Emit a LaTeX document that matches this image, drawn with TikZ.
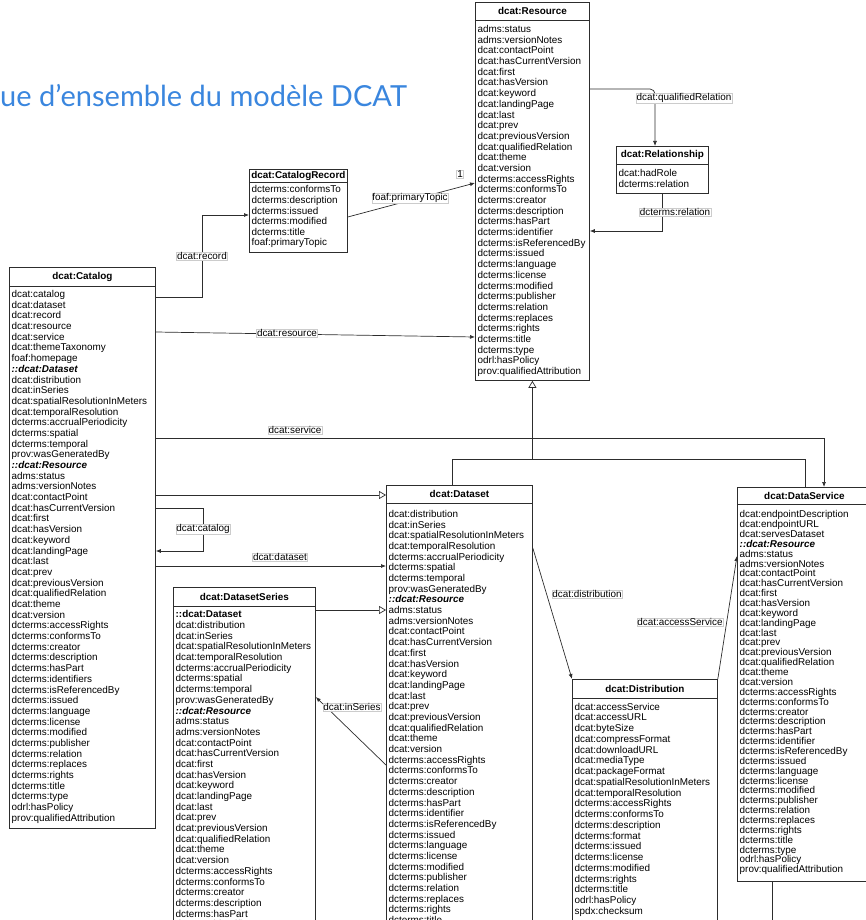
\documentclass[tikz,border=0pt]{standalone}
\usepackage{fontspec}
\setmainfont{Liberation Sans}
\newfontfamily\titlefont{Lato}
\usetikzlibrary{calc}
\usetikzlibrary{arrows.meta}

\definecolor{titleblue}{RGB}{58,134,222}
\definecolor{umlgray}{RGB}{45,45,45}
\newcommand\umlfont{\fontsize{9.9}{10.7}\selectfont}

% property lists
\newcommand\resourceprops{adms:status, adms:versionNotes, dcat:contactPoint,
  dcat:hasCurrentVersion, dcat:first, dcat:hasVersion, dcat:keyword,
  dcat:landingPage, dcat:last, dcat:prev, dcat:previousVersion,
  dcat:qualifiedRelation, dcat:theme, dcat:version, dcterms:accessRights,
  dcterms:conformsTo, dcterms:creator, dcterms:description, dcterms:hasPart,
  dcterms:identifier, dcterms:isReferencedBy, dcterms:issued, dcterms:language,
  dcterms:license, dcterms:modified, dcterms:publisher, dcterms:relation,
  dcterms:replaces, dcterms:rights, dcterms:title, dcterms:type,
  odrl:hasPolicy, prov:qualifiedAttribution}
\newcommand\catalogresprops{adms:status, adms:versionNotes, dcat:contactPoint,
  dcat:hasCurrentVersion, dcat:first, dcat:hasVersion, dcat:keyword,
  dcat:landingPage, dcat:last, dcat:prev, dcat:previousVersion,
  dcat:qualifiedRelation, dcat:theme, dcat:version, dcterms:accessRights,
  dcterms:conformsTo, dcterms:creator, dcterms:description, dcterms:hasPart,
  dcterms:identifiers, dcterms:isReferencedBy, dcterms:issued, dcterms:language,
  dcterms:license, dcterms:modified, dcterms:publisher, dcterms:relation,
  dcterms:replaces, dcterms:rights, dcterms:title, dcterms:type,
  odrl:hasPolicy, prov:qualifiedAttribution}
\newcommand\datasetprops{dcat:distribution, dcat:inSeries,
  dcat:spatialResolutionInMeters, dcat:temporalResolution,
  dcterms:accrualPeriodicity, dcterms:spatial, dcterms:temporal,
  prov:wasGeneratedBy}
\newcommand\catalogprops{dcat:catalog, dcat:dataset, dcat:record, dcat:resource,
  dcat:service, dcat:themeTaxonomy, foaf:homepage}
\newcommand\recordprops{dcterms:conformsTo, dcterms:description, dcterms:issued,
  dcterms:modified, dcterms:title, foaf:primaryTopic}
\newcommand\relprops{dcat:hadRole, dcterms:relation}
\newcommand\distprops{dcat:accessService, dcat:accessURL, dcat:byteSize,
  dcat:compressFormat, dcat:downloadURL, dcat:mediaType, dcat:packageFormat,
  dcat:spatialResolutionInMeters, dcat:temporalResolution,
  dcterms:accessRights, dcterms:conformsTo, dcterms:description,
  dcterms:format, dcterms:issued, dcterms:license, dcterms:modified,
  dcterms:rights, dcterms:title, odrl:hasPolicy, spdx:checksum}
\newcommand\serviceprops{dcat:endpointDescription, dcat:endpointURL,
  dcat:servesDataset}

% #1 prefix, #2 x, #3 first baseline, #4 step, #5 list
\newcommand\proplist[5]{%
  \foreach \p [count=\i] in #5
    \node[prop] (#1-\i) at (#2, {#3+(\i-1)*#4}) {\p};%
}

\tikzset{
  cls/.style={draw=umlgray, line width=0.8pt, anchor=north west, inner sep=0pt, fill=white},
  head/.style={font=\umlfont\bfseries, inner sep=0pt},
  prop/.style={font=\umlfont, anchor=base west, inner sep=0pt},
  inh/.style={prop, font=\umlfont\bfseries\itshape},
  lbl/.style={font=\umlfont, fill=white, draw=black!20, line width=0.4pt, inner sep=0.6pt},
  link/.style={draw=umlgray, line width=0.7pt},
  assoc/.style={link, -{Latex[length=5pt,width=4pt]}},
  gen/.style={link, -{Triangle[open,length=7pt,width=8pt,fill=white]}},
}

\begin{document}
\begin{tikzpicture}[x=1pt, y=-1pt]
\useasboundingbox (0,0) rectangle (866,920);
\clip (0,0) rectangle (866,920);

\node[anchor=base west, inner sep=0pt, font=\titlefont\fontsize{29}{31}\selectfont, text=titleblue] (title) at (0,107) {ue d’ensemble du modèle DCAT};

% class boxes
\node[cls, minimum width=114pt, minimum height=378pt] (resource) at (475,2) {};
\node[cls, minimum width=92pt, minimum height=47pt] (relationship) at (616,146) {};
\node[cls, minimum width=98pt, minimum height=83pt] (catrecord) at (249,169) {};
\node[cls, minimum width=146pt, minimum height=561pt] (catalog) at (9,267) {};
\node[cls, minimum width=146pt, minimum height=480pt] (dataset) at (386,485) {};
\node[cls, minimum width=142pt, minimum height=380pt] (series) at (173,587) {};
\node[cls, minimum width=145pt, minimum height=300pt] (distribution) at (572,679) {};
\node[cls, minimum width=134pt, minimum height=394pt] (dataservice) at (737,487) {};

\foreach \b/\h in {resource/20, relationship/164, catrecord/182, catalog/286,
  dataset/503, series/606, distribution/698, dataservice/504}
  \draw[link, line width=0.8pt] (\b.north west |- 0,\h) -- (\b.north east |- 0,\h);

\node[head] (resource-t) at (resource.north |- 0,11) {dcat:Resource};
\node[head] (relationship-t) at (relationship.north |- 0,155) {dcat:Relationship};
\node[head] (catrecord-t) at (catrecord.north |- 0,175.5) {dcat:CatalogRecord};
\node[head] (catalog-t) at (catalog.north |- 0,276.5) {dcat:Catalog};
\node[head] (dataset-t) at (dataset.north |- 0,494) {dcat:Dataset};
\node[head] (series-t) at (series.north |- 0,596.5) {dcat:DatasetSeries};
\node[head] (distribution-t) at (distribution.north |- 0,689) {dcat:Distribution};
\node[head] (dataservice-t) at (dataservice.north |- 0,496) {dcat:DataService};

% properties
\proplist{res}{477.5}{32.5}{10.69}{\resourceprops}
\proplist{rel}{618.5}{176.5}{10.5}{\relprops}
\proplist{rec}{251.5}{192.8}{10.6}{\recordprops}

\proplist{cat}{11.5}{297.5}{10.69}{\catalogprops}
\node[inh] (cat-inh1) at (11.5,{297.5+7*10.69}) {::dcat:Dataset};
\proplist{catd}{11.5}{297.5+8*10.69}{10.69}{\datasetprops}
\node[inh] (cat-inh2) at (11.5,{297.5+16*10.69}) {::dcat:Resource};
\proplist{catr}{11.5}{297.5+17*10.69}{10.69}{\catalogresprops}

\proplist{ds}{388.5}{517.4}{10.69}{\datasetprops}
\node[inh] (ds-inh) at (388.5,{517.4+8*10.69}) {::dcat:Resource};
\proplist{dsr}{388.5}{517.4+9*10.69}{10.69}{\resourceprops}

\node[prop, font=\umlfont\bfseries] (ser-inh1) at (175.5,617.8) {::dcat:Dataset};
\proplist{serd}{175.5}{617.8+10.69}{10.69}{\datasetprops}
\node[inh] (ser-inh2) at (175.5,{617.8+9*10.69}) {::dcat:Resource};
\proplist{serr}{175.5}{617.8+10*10.69}{10.69}{\resourceprops}

\proplist{dist}{574.5}{710.2}{10.75}{\distprops}

\proplist{svc}{739.5}{517.8}{9.86}{\serviceprops}
\node[inh] (svc-inh) at (739.5,{517.8+3*9.86}) {::dcat:Resource};
\proplist{svcr}{739.5}{517.8+4*9.86}{9.86}{\resourceprops}

% connectors
\coordinate (offpage) at (772,925);
\draw[assoc] (catalog.east |- 0,297) -| (202,215) -- (catrecord.west |- 0,215);
\draw[assoc] (catrecord.east |- 0,217) -- (resource.west |- 0,183);
\draw[assoc] (catalog.east |- 0,332) -- (resource.west |- 0,337);
\draw[assoc, rounded corners=5pt] (resource.east |- 0,89) -| (relationship.north -| 655,0);
\draw[assoc] (relationship.south) |- (resource.east |- 0,231);
\draw[gen] (dataset.north -| 452,0) |- (resource.south |- 0,459) -- (resource.south);
\draw[link] (dataservice.north -| 805,0) |- (resource.south |- 0,459);
\draw[assoc] (catalog.east |- 0,438) -| (dataservice.north -| 824,0);
\draw[gen] (catalog.east |- 0,495) -- (dataset.west |- 0,495);
\draw[assoc] (catalog.east |- 0,508) -- (203,508) -- (203,551) -- (catalog.east |- 0,551);
\draw[assoc] (catalog.east |- 0,566) -- (dataset.west |- 0,566);
\draw[gen] (series.east |- 0,610) -- (dataset.west |- 0,610);
\draw[assoc] (dataset.west |- 0,765) -- (series.east |- 0,697);
\draw[assoc] (dataset.east |- 0,548) -- (distribution.north west);
\draw[assoc] (distribution.north east) -- (dataservice.west |- 0,556);
\draw[link] (dataservice.south -| offpage) -- (offpage);

% labels
\node[lbl] (l-record) at (202,256) {dcat:record};
\node[lbl] (l-topic) at (410,198) {foaf:primaryTopic};
\node[lbl] (l-one) at (460,174) {1};
\node[lbl] (l-resource) at (287,333) {dcat:resource};
\node[lbl] (l-qualrel) at (684,98) {dcat:qualifiedRelation};
\node[lbl] (l-relation) at (675,212) {dcterms:relation};
\node[lbl] (l-service) at (295,430) {dcat:service};
\node[lbl] (l-catalog) at (203,529) {dcat:catalog};
\node[lbl] (l-dataset) at (280,557) {dcat:dataset};
\node[lbl] (l-inseries) at (352,707) {dcat:inSeries};
\node[lbl] (l-distribution) at (587,594) {dcat:distribution};
\node[lbl] (l-access) at (680,622) {dcat:accessService};
\end{tikzpicture}
\end{document}
